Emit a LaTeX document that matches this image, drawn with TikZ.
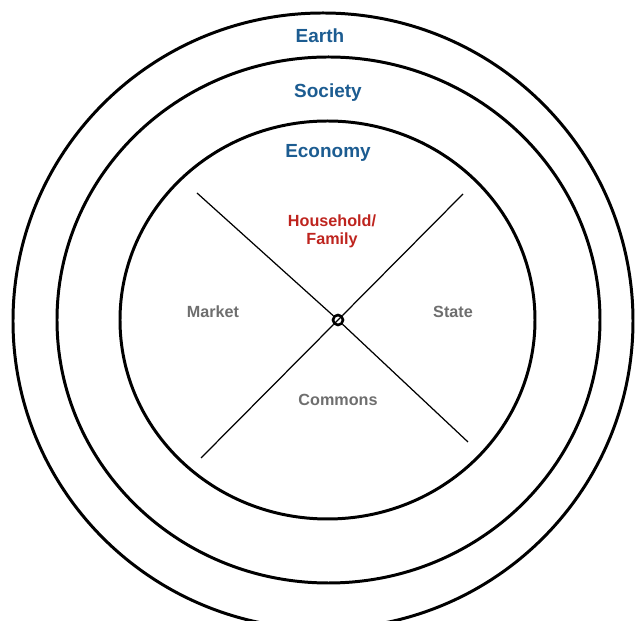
\documentclass[tikz,border=0pt]{standalone}
\usepackage{fontspec}
\setmainfont{Liberation Sans}
\usetikzlibrary{positioning}

\definecolor{ringblue}{RGB}{28,92,145}
\definecolor{homered}{RGB}{190,36,30}
\definecolor{sectorgrey}{RGB}{110,110,110}

\begin{document}
\begin{tikzpicture}[
    ring/.style={draw=black, line width=1.7pt},
    spoke/.style={draw=black, line width=0.7pt},
    ringlabel/.style={font=\fontsize{10.8}{13}\selectfont\bfseries, text=ringblue},
    sector/.style={font=\fontsize{9.2}{10.4}\selectfont\bfseries, text=sectorgrey, align=center},
    hub/.style={circle, draw=black, line width=1.5pt, fill=white, inner sep=0pt, minimum size=0.2cm,
        path picture={\draw[line width=0.7pt] (path picture bounding box.south west) -- (path picture bounding box.north east);}}
]
    \useasboundingbox (-6.76,-6.02) rectangle (5.94,6.40);
    \clip (-6.76,-6.02) rectangle (5.94,6.40);

    % Earth, Society, Economy
    \draw[ring] (-0.30,-0.02) ellipse [x radius=6.20, y radius=6.16];
    \draw[ring] (-0.19,0) ellipse [x radius=5.43, y radius=5.26];
    \draw[ring] (-0.21,0) ellipse [x radius=4.15, y radius=3.98];

    \node[ringlabel] (earth) at (-0.36,5.68) {Earth};
    \node[ringlabel] (society) at (-0.20,4.54) {Society};
    \node[ringlabel] (economy) at (-0.20,3.34) {Economy};

    % the cross inside the economy
    \coordinate (nw) at (-2.82,2.54);
    \coordinate (se) at (2.60,-2.44);
    \coordinate (ne) at (2.50,2.52);
    \coordinate (sw) at (-2.74,-2.76);
    \node[hub] (hub) at (0,0) {};
    \draw[spoke] (nw) -- (hub) -- (se);
    \draw[spoke] (ne) -- (hub) -- (sw);

    \node[sector, text=homered] (home) at (-0.12,1.78) {Household/\\Family};
    \node[sector] (market) at (-2.50,0.16) {Market};
    \node[sector] (state) at (2.30,0.16) {State};
    \node[sector] (commons) at (0,-1.60) {Commons};
\end{tikzpicture}
\end{document}
